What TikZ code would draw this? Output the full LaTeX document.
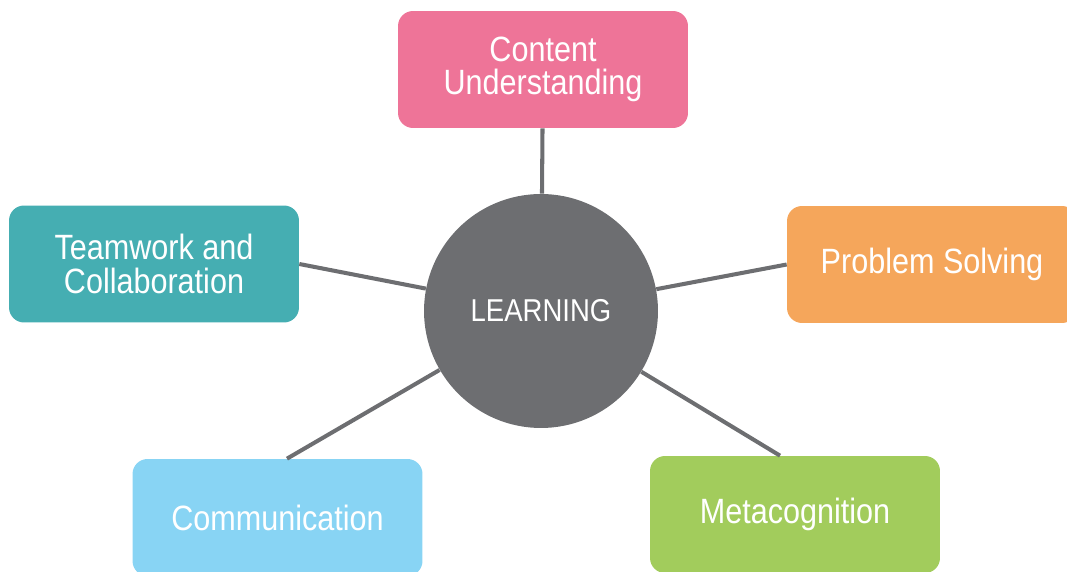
\documentclass[tikz,border=0pt]{standalone}
\usepackage{fontspec}
\setmainfont{Liberation Sans}[FakeStretch=0.87]
\usepackage{xcolor}
\definecolor{hubgray}{HTML}{6D6E71}
\definecolor{contentpink}{HTML}{EE7498}
\definecolor{teamteal}{HTML}{45AEB2}
\definecolor{problemorange}{HTML}{F5A65B}
\definecolor{commblue}{HTML}{88D4F4}
\definecolor{metagreen}{HTML}{A2CC5C}

\begin{document}
\begin{tikzpicture}[x=0.02cm, y=0.02cm,
  topic/.style={rectangle, rounded corners=0.3cm, minimum width=5.8cm,
    minimum height=2.34cm, align=center, text=white,
    font=\fontsize{20}{19}\selectfont},
  hub/.style={circle, fill=hubgray, minimum size=4.68cm, text=white,
    font=\fontsize{18}{20}\selectfont},
  spoke/.style={draw=hubgray, line width=2.3pt}]
  % frame of the picture (boxes at the edges are cut off)
  \useasboundingbox (0,0) rectangle (1067,571);
  \clip (0,0) rectangle (1067,571);

  % centre
  \node[hub] (learn) at (541,260) {LEARNING};

  % the five topics round it
  \node[topic, fill=contentpink] (content) at (543,501.5) {Content\\Understanding};
  \node[topic, fill=teamteal] (team) at (154,307) {Teamwork and\\Collaboration};
  \node[topic, fill=problemorange] (problem) at (932,306.5) {Problem Solving};
  \node[topic, fill=commblue] (comm) at (277.5,53.5) {Communication};
  \node[topic, fill=metagreen] (meta) at (795,56.5) {Metacognition};

  % spokes
  \draw[spoke] (content) -- (learn);
  \draw[spoke] (team.east) -- (learn);
  \draw[spoke] (problem.west) -- (learn);
  \draw[spoke] ([xshift=0.19cm]comm.north) -- (learn);
  \draw[spoke] ([xshift=-0.3cm]meta.north) -- (learn);
\end{tikzpicture}
\end{document}
